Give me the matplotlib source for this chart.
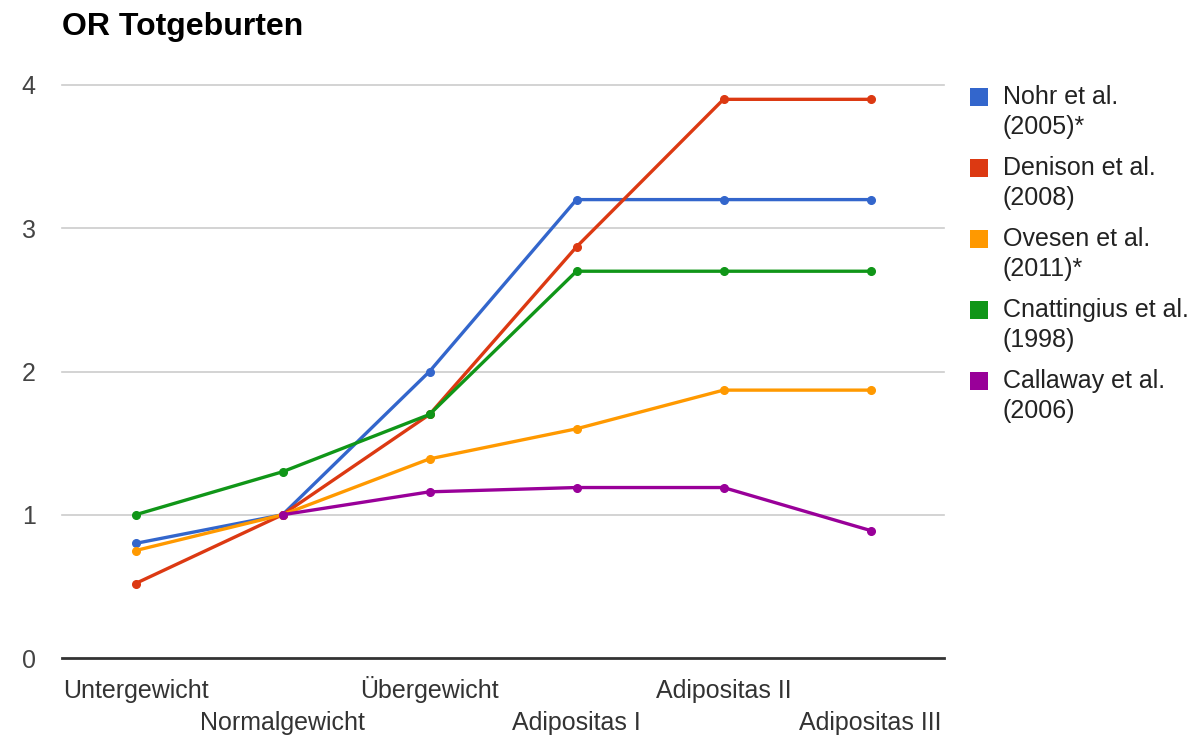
import numpy as np
import matplotlib
matplotlib.use('Agg')
import matplotlib.pyplot as plt
from matplotlib.patches import Rectangle

# Kategorien (BMI-Klassen)
kategorien = ['Untergewicht', 'Normalgewicht', 'Übergewicht',
              'Adipositas I', 'Adipositas II', 'Adipositas III']

# Odds Ratios je Studie
nohr = [0.80, 1.0, 2.0, 3.2, 3.2, 3.2]
denison = [0.52, 1.0, 1.70, 2.87, 3.9, 3.9]
ovesen = [0.75, 1.0, 1.39, 1.60, 1.87, 1.87]
cnattingius = [1.0, 1.30, 1.70, 2.7, 2.7, 2.7]
callaway = [np.nan, 1.0, 1.16, 1.19, 1.19, 0.89]

studien = ['Nohr et al.\n(2005)*', 'Denison et al.\n(2008)', 'Ovesen et al.\n(2011)*',
           'Cnattingius et al.\n(1998)', 'Callaway et al.\n(2006)']
werte = [nohr, denison, ovesen, cnattingius, callaway]
farben = ['#3366cc', '#dc3912', '#ff9900', '#109618', '#990099']

plt.rcParams['font.family'] = ['Liberation Sans', 'DejaVu Sans']

W, H = 1191, 738
fig = plt.figure(figsize=(W / 100, H / 100), dpi=100)
ax = fig.add_axes([62 / W, 1 - 658 / H, 882 / W, 573 / H])

x = np.arange(len(kategorien))

# Gitterlinien
for yv in [1, 2, 3, 4]:
    ax.axhline(yv, color='#cccccc', lw=1.2, zorder=0, clip_on=False)
ax.axhline(0, color='#333333', lw=2.0, zorder=1, clip_on=False)

for name, y, c in zip(studien, werte, farben):
    ax.plot(x, y, color=c, lw=2.4, marker='o', markersize=5.5, clip_on=False, zorder=3)

ax.set_xlim(-0.5, 5.5)
ax.set_ylim(0, 4)
for s in ax.spines.values():
    s.set_visible(False)

ax.set_yticks([0, 1, 2, 3, 4])
ax.set_yticklabels(['0', '1', '2', '3', '4'])
ax.tick_params(axis='y', length=0, pad=19, labelsize=18, labelcolor='#444444')

# Beschriftungen versetzt in zwei Reihen (gleiche Grundlinie je Reihe)
ax.set_xticks(x[::2], [kategorien[i] for i in x[::2]])
ax.set_xticks(x[1::2], [kategorien[i] for i in x[1::2]], minor=True)
ax.tick_params(axis='x', which='major', length=0, pad=28.5, labelsize=18, labelcolor='#333333')
ax.tick_params(axis='x', which='minor', length=0, pad=52, labelsize=18, labelcolor='#333333')
for lab in ax.get_xticklabels(which='both'):
    lab.set_va('baseline')

fig.text(62 / W, 1 - 27 / H, 'OR Totgeburten', fontsize=23, fontweight='bold',
         ha='left', va='center', color='#000000')

# Legende
for i, (name, c) in enumerate(zip(studien, farben)):
    yc = 97 + i * 71
    fig.patches.append(Rectangle((970 / W, 1 - (yc + 9) / H), 18 / W, 18 / H,
                                 transform=fig.transFigure, facecolor=c, edgecolor='none'))
    zeilen = name.split('\n')
    for j, z in enumerate(zeilen):
        fig.text(1003 / W, 1 - (yc + j * 30) / H, z, fontsize=18, ha='left',
                 va='center', color='#222222')

fig.savefig('out.png', dpi=100)
